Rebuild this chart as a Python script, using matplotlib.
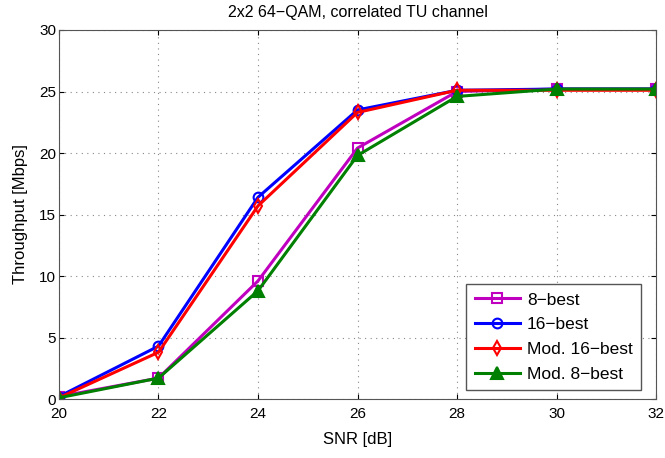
import matplotlib
matplotlib.use("Agg")
import matplotlib.pyplot as plt

plt.rcParams['font.family'] = ['Liberation Sans', 'DejaVu Sans']

snr = [20, 22, 24, 26, 28, 30, 32]
best8 = [0.2, 1.7, 9.6, 20.4, 25.0, 25.2, 25.2]
best16 = [0.2, 4.3, 16.4, 23.5, 25.1, 25.2, 25.2]
mod16 = [0.1, 3.8, 15.7, 23.3, 25.1, 25.1, 25.1]
mod8 = [0.1, 1.7, 8.8, 19.8, 24.6, 25.2, 25.2]
labels = ["8\u2212best", "16\u2212best", "Mod. 16\u2212best", "Mod. 8\u2212best"]

fig = plt.figure(figsize=(6.65, 4.58), dpi=100)
ax = fig.add_axes([0.0887, 0.1288, 0.8978, 0.8057])

ax.plot(snr, best8, color='#bf00bf', marker='s', ms=7, mfc='none', mew=1.5, lw=2.2, label=labels[0])
ax.plot(snr, best16, color='#0000ff', marker='o', ms=7, mfc='none', mew=1.5, lw=2.2, label=labels[1])
ax.plot(snr, mod16, color='#ff0000', marker='d', ms=7, mfc='none', mew=1.5, lw=2.2, label=labels[2])
ax.plot(snr, mod8, color='#008000', marker='^', ms=8, mfc='#008000', mew=1.5, lw=2.2, label=labels[3])

ax.set_xlim(20, 32)
ax.set_ylim(0, 30)
ax.set_xticks(snr)
ax.set_yticks([0, 5, 10, 15, 20, 25, 30])
ax.grid(True, linestyle=(0, (1, 4)), color='#888888', lw=0.8)
ax.tick_params(direction='in', top=True, right=True, labelsize=11)
ax.tick_params(axis='y', pad=2)
ax.tick_params(axis='x', pad=6)
for s in ax.spines.values():
    s.set_color('#555555')
ax.set_xlabel("SNR [dB]", fontsize=12, labelpad=8)
ax.set_ylabel("Throughput [Mbps]", fontsize=12, labelpad=8)
ax.set_title("2x2 64\u2212QAM, correlated TU channel", fontsize=11.5, pad=9)
leg = ax.legend(loc='lower right', fontsize=12.5, fancybox=False, framealpha=1,
                edgecolor='#555555', handlelength=2.6, borderpad=0.5,
                labelspacing=0.55, handletextpad=0.4, bbox_to_anchor=(0.99, 0.0))
leg.get_frame().set_linewidth(1.0)

fig.savefig("out.png", dpi=100)
